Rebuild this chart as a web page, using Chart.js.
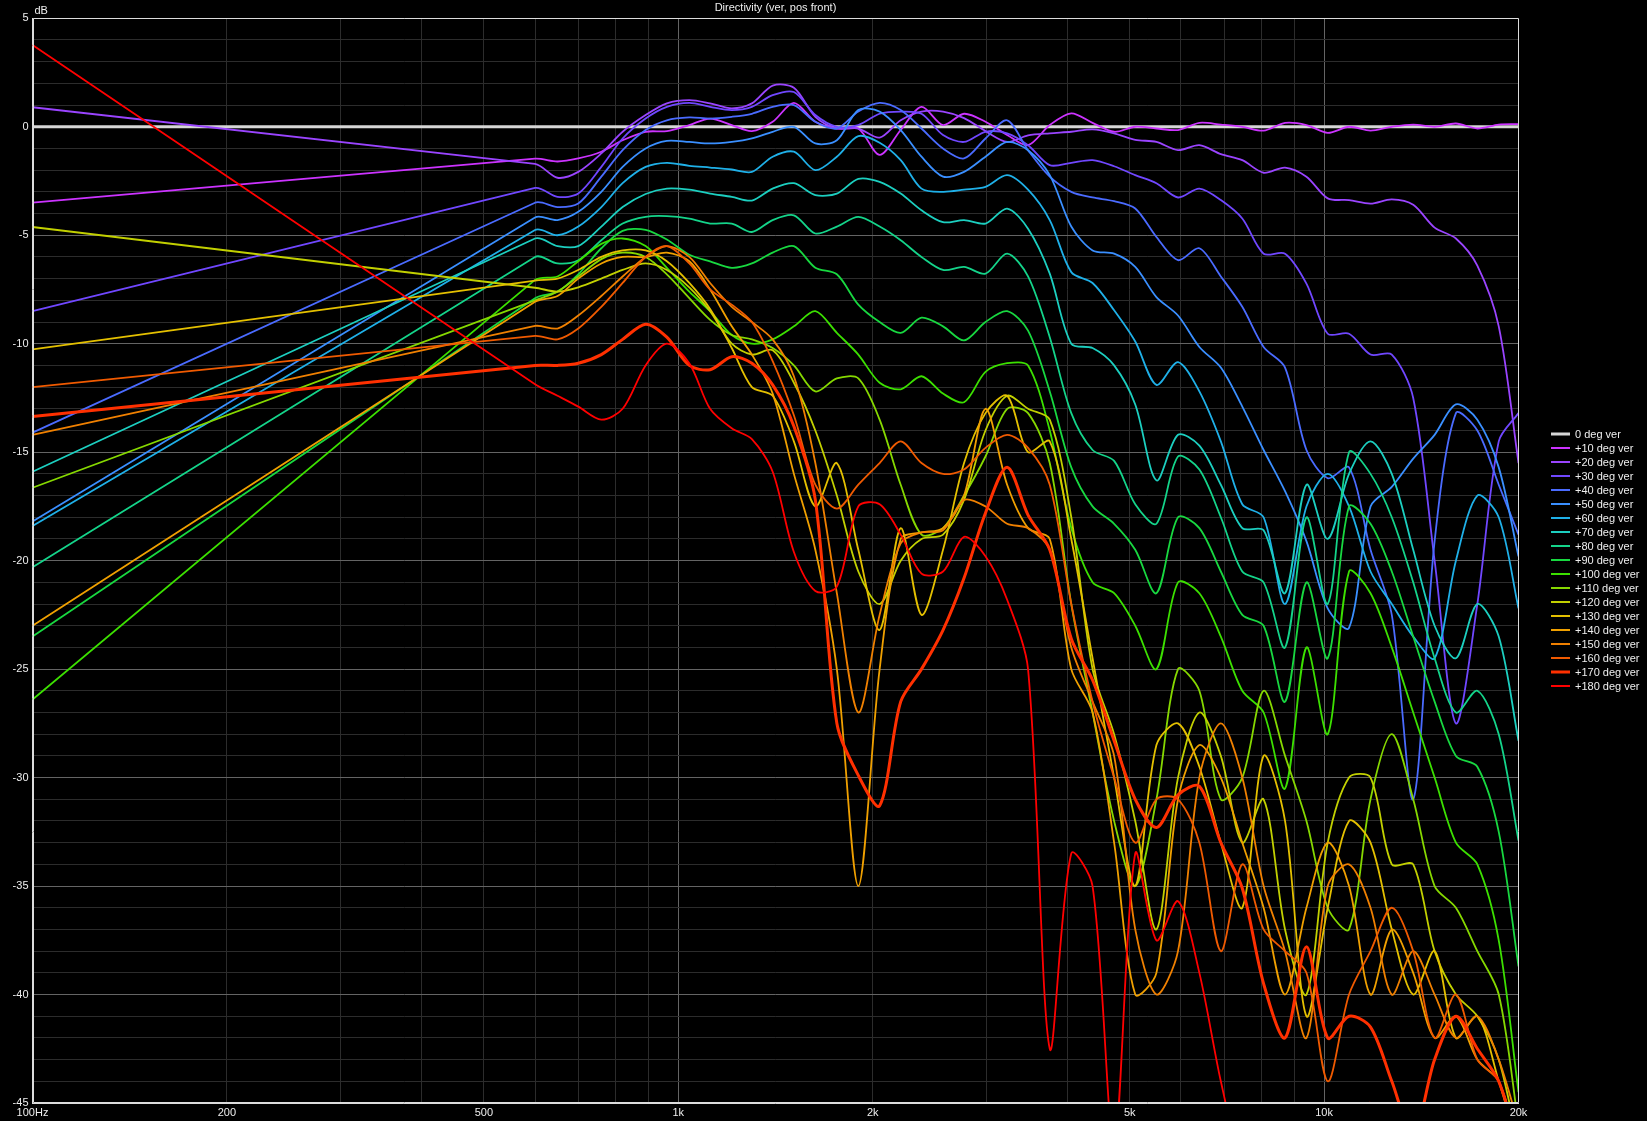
<!DOCTYPE html>
<html>
<head>
<meta charset="utf-8">
<style>
html,body{margin:0;padding:0;background:#000;overflow:hidden}
#c{display:block}
</style>
<script src="https://cdn.jsdelivr.net/npm/chart.js@4.4.1/dist/chart.umd.min.js"></script>
</head>
<body>
<canvas id="c" width="1647" height="1121"></canvas>
<script>
// ---------------- DATA ----------------
const chartTitle = 'Directivity (ver, pos front)';
const yUnit = 'dB';
const freqs = [100, 600, 650, 700, 760, 820, 890, 960, 1040, 1120, 1210, 1300, 1400, 1510, 1630, 1760, 1900, 2050, 2210, 2380, 2570, 2770, 2990, 3230, 3480, 3760, 4060, 4380, 4730, 5100, 5500, 5940, 6410, 6920, 7470, 8060, 8700, 9390, 10130, 10930, 11800, 12730, 13740, 14830, 16000, 17270, 18640, 20000];

const deg0   = [0, 0, 0, 0, 0, 0, 0, 0, 0, 0, 0, 0, 0, 0, 0, 0, 0, 0, 0, 0, 0, 0, 0, 0, 0, 0, 0, 0, 0, 0, 0, 0, 0, 0, 0, 0, 0, 0, 0, 0, 0, 0, 0, 0, 0, 0, 0, 0];
const deg10  = [-3.5, -1.47, -1.6, -1.46, -1.15, -0.62, -0.23, -0.2, 0.08, 0.38, 0.08, -0.2, 0.23, 1.1, 0.23, -0.08, -0.08, -1.3, -0.15, 0.92, 0.08, 0.6, 0.23, -0.38, -0.85, 0.08, 0.62, 0.18, -0.23, 0, -0.08, -0.15, 0.18, 0.1, 0, -0.18, 0.18, 0.08, -0.28, 0, -0.18, 0, 0.1, 0, 0.15, -0.08, 0.1, 0.12];
const deg20  = [0.9, -1.71, -2.35, -2.08, -1.23, -0.23, 0.54, 1.08, 1.23, 1.08, 0.85, 1.08, 1.9, 1.8, 0.46, -0.08, -0.08, -0.5, 0.3, 0.7, 0.7, 0.4, -0.2, -0.7, -0.4, -0.3, -0.23, -0.12, -0.3, -0.6, -0.7, -1.08, -0.85, -1.26, -1.54, -2.12, -1.88, -2.3, -3.3, -3.38, -3.54, -3.35, -3.6, -4.65, -5.15, -6.4, -9.2, -15.5];
const deg30  = [-8.5, -2.82, -3.23, -3.08, -1.85, -0.54, 0.38, 0.92, 1.1, 0.92, 0.77, 0.92, 1.46, 1.6, 0.54, 0, 0.08, 0.6, 0.7, 0.6, -0.38, -0.7, -0.23, -0.3, -0.85, -1.77, -1.66, -1.54, -1.82, -2.23, -2.6, -3.26, -2.85, -3.38, -4.23, -5.85, -5.85, -7.23, -9.54, -9.54, -10.5, -10.5, -12.5, -20, -27.5, -22, -14.5, -13.2];
const deg40  = [-14.1, -3.5, -3.7, -3.54, -2.3, -1.08, -0.15, 0.3, 0.43, 0.38, 0.46, 0.6, 0.92, 1.0, 0.23, -0.08, 0.7, 1.1, 0.77, -0.08, -1.0, -1.46, -0.54, 0.3, -1.08, -2.3, -3.0, -3.26, -3.43, -3.77, -5.08, -6.15, -5.6, -6.9, -8.3, -10.15, -11.1, -14.9, -16.2, -15.7, -19.5, -22.5, -31, -19.1, -13.2, -14, -16.5, -18.8];
const deg50  = [-18.2, -4.18, -4.3, -3.92, -3.0, -1.85, -1.0, -0.65, -0.7, -0.77, -0.7, -0.54, -0.23, 0, -0.77, -0.62, 0.77, 0.7, -0.15, -1.38, -2.3, -2.08, -1.38, -0.7, -1.08, -2.23, -4.6, -5.7, -5.85, -6.46, -7.85, -8.7, -10.15, -11.1, -12.9, -14.9, -16.8, -19.1, -22.2, -23.1, -17.5, -16.6, -15.3, -14.2, -12.8, -13.5, -15.7, -19.8];
const deg60  = [-18.4, -4.76, -5.0, -4.6, -3.7, -2.6, -1.85, -1.66, -1.8, -1.88, -1.97, -2.08, -1.38, -1.15, -2.0, -1.38, -0.43, -0.74, -1.54, -2.85, -3.0, -2.9, -2.77, -2.23, -2.9, -4.3, -6.7, -7.2, -8.46, -9.9, -11.9, -10.85, -12.2, -14.5, -17.4, -18, -22, -17.5, -16, -17.5, -20.5, -22, -23.5, -24.5, -20, -17, -18, -22.2];
const deg70  = [-15.9, -5.15, -5.5, -5.5, -4.6, -3.7, -3.1, -2.85, -2.9, -3.08, -3.23, -3.4, -2.85, -2.6, -3.15, -3.08, -2.4, -2.54, -3.08, -3.85, -4.4, -4.3, -4.46, -3.77, -4.7, -6.77, -10.0, -10.2, -11.0, -12.8, -16.3, -14.2, -14.7, -16.5, -18.5, -18.6, -21.5, -16.5, -19, -16, -14.5, -16, -19.5, -23, -24.5, -22, -23.5, -28.3];
const deg80  = [-20.3, -6.0, -6.3, -6.15, -5.23, -4.46, -4.15, -4.12, -4.23, -4.46, -4.46, -4.85, -4.3, -4.08, -4.92, -4.6, -4.15, -4.6, -5.23, -6.0, -6.6, -6.46, -6.77, -5.85, -6.9, -9.7, -13.2, -14.9, -15.4, -17.4, -18.3, -15.2, -15.8, -18, -20.5, -21, -24, -18, -22, -15, -16, -18, -21, -24.5, -27, -26, -28, -32.9];
const deg90  = [-23.5, -7.9, -7.6, -6.8, -5.6, -4.8, -4.75, -5.2, -5.9, -6.2, -6.5, -6.3, -5.8, -5.5, -6.5, -6.8, -8.2, -9.0, -9.5, -8.8, -9.2, -9.85, -9.0, -8.5, -9.4, -12.2, -15.7, -17.5, -18.3, -19.5, -21.5, -18.0, -18.5, -20.5, -22.5, -23, -26.5, -21, -24.5, -17.5, -18.3, -20.5, -23.5, -26.5, -29, -29.5, -32.5, -38.7];
const deg100 = [-26.4, -7.06, -6.9, -6.2, -5.4, -5.15, -5.5, -6.5, -7.6, -8.5, -9.6, -10.0, -9.8, -9.2, -8.5, -9.5, -10.5, -11.8, -12.1, -11.5, -12.3, -12.7, -11.3, -10.9, -11.0, -14.0, -18.5, -21, -21.5, -23, -25, -21, -21.5, -23.5, -26, -27, -30.5, -24, -28, -20.5, -21.5, -24, -27, -30, -33, -34, -37.5, -44.5];
const deg110 = [-16.64, -8.0, -7.6, -6.9, -6.1, -5.8, -6.0, -6.8, -7.9, -8.9, -9.6, -9.8, -10.2, -11.0, -12.2, -11.6, -11.6, -13.5, -16.5, -18.8, -18.5, -17.0, -15.2, -13.0, -13.2, -15.5, -22, -27, -32, -35, -31, -25, -26, -31, -30, -26, -29, -32, -36, -37, -31, -28, -31, -35, -36, -38, -40, -46];
const deg120 = [-4.62, -7.42, -7.6, -7.4, -7.0, -6.6, -6.3, -6.6, -7.4, -8.5, -10.0, -10.5, -10.3, -11.8, -14.0, -17.0, -20.5, -22.0, -20.0, -19.0, -18.8, -17.2, -14.0, -12.4, -13.0, -13.5, -18, -25, -28, -32, -37, -30, -27, -29, -33, -31, -37, -40, -33, -30, -30, -34, -34, -38, -40, -41, -43, -47];
const deg130 = [-10.26, -7.09, -7.0, -6.6, -6.0, -5.7, -5.7, -6.2, -7.2, -8.4, -10.2, -12.0, -12.4, -14.5, -17.5, -15.5, -19.5, -23.2, -18.5, -22.5, -19.5, -15.5, -13.2, -12.4, -15.0, -14.5, -19, -24.5, -30, -35, -28.5, -27.5, -29.5, -33, -36, -29, -32, -41, -36, -32, -33, -37, -40, -38, -42, -41, -44, -47];
const deg140 = [-23.0, -8.07, -7.8, -7.0, -6.3, -6.0, -6.0, -5.8, -6.2, -7.5, -9.2, -10.5, -12.3, -16.0, -19.5, -25, -35, -25, -19, -18.7, -18.5, -17, -13, -16.5, -18.5, -19, -25, -27, -33, -40, -39, -31, -28.5, -30, -33, -36, -40, -36, -33, -35, -40, -37, -39, -42, -41, -43, -44, -47];
const deg150 = [-14.2, -9.18, -9.3, -8.7, -7.8, -6.9, -6.0, -5.5, -6.0, -7.2, -8.3, -9.0, -9.8, -11.5, -15.5, -21.5, -27, -22.5, -19.2, -18.7, -18.6, -17.2, -17.5, -18.3, -18.5, -19.5, -24, -26.5, -29, -37, -40, -38, -30, -27.5, -30, -35, -38, -42, -35, -34, -36, -40, -38, -40, -42, -41, -43, -46];
const deg160 = [-12.0, -9.64, -9.8, -9.3, -8.3, -7.2, -6.0, -5.5, -6.3, -7.5, -8.2, -9.0, -10.8, -13.3, -16.5, -17.6, -16.5, -15.5, -14.5, -15.5, -16.0, -15.8, -14.8, -14.2, -14.8, -16.5, -22, -26.5, -30, -33, -31, -31, -33, -38, -34, -37, -38, -39, -44, -40, -38, -36, -38, -42, -40, -43, -44, -47];
const deg170 = [-13.35, -11.0, -11.0, -10.9, -10.5, -9.8, -9.1, -9.7, -11.0, -11.2, -10.6, -10.9, -11.9, -13.8, -17.2, -27.5, -29.9, -31.3, -26.5, -25.0, -23.2, -20.8, -17.8, -15.7, -17.9, -19.5, -23.6, -25.5, -28.3, -31.0, -32.3, -30.8, -30.4, -33.0, -35.1, -39.5, -42, -37.8, -42, -41, -41.5, -44, -46.5, -43, -41, -42.5, -44, -47];
const deg180 = [3.77, -11.87, -12.4, -12.9, -13.5, -13.0, -11.0, -10.0, -10.9, -13.0, -13.9, -14.4, -15.9, -19.6, -21.4, -21.2, -17.5, -17.4, -18.8, -20.6, -20.5, -18.9, -19.8, -21.8, -25.0, -42.5, -33.5, -35.0, -47, -33.5, -37.5, -35.7, -39, -44, -48, -50, -48, -45.5, -50, -48, -45, -50, -50, -50, -50, -50, -50, -50];

const seriesNames = ['0 deg ver', '+10 deg ver', '+20 deg ver', '+30 deg ver', '+40 deg ver', '+50 deg ver', '+60 deg ver', '+70 deg ver', '+80 deg ver', '+90 deg ver', '+100 deg ver', '+110 deg ver', '+120 deg ver', '+130 deg ver', '+140 deg ver', '+150 deg ver', '+160 deg ver', '+170 deg ver', '+180 deg ver'];
const seriesValues = [deg0, deg10, deg20, deg30, deg40, deg50, deg60, deg70, deg80, deg90, deg100, deg110, deg120, deg130, deg140, deg150, deg160, deg170, deg180];

const xGridValues = [100, 200, 300, 400, 500, 600, 700, 800, 900, 1000, 2000, 3000, 4000, 5000, 6000, 7000, 8000, 9000, 10000, 20000];
const xTickLabels = {100: '100Hz', 200: '200', 500: '500', 1000: '1k', 2000: '2k', 5000: '5k', 10000: '10k', 20000: '20k'};
const yMin = -45, yMax = 5;
const yLabelValues = [5, 0, -5, -10, -15, -20, -25, -30, -35, -40, -45];

// ---------------- STYLE ----------------
const seriesColors = ['#d6d6d6', '#cc33ff', '#9a44ff', '#7047ff', '#4a6bff', '#3a8fff', '#1fb0e8', '#1ccfc0', '#14d48a', '#18d840', '#3ce000', '#86d800', '#c2d000', '#e4c000', '#f0a000', '#f08000', '#f05a00', '#ff3000', '#ff0000'];
const thickSeries = [0, 17];
const MINOR = 'rgb(44,44,44)';
const MAJOR = 'rgb(100,100,100)';
const TEXT = '#eeeeee';
const FONT = '"Liberation Sans", Arial, sans-serif';

const datasets = seriesValues.map((vals, i) => ({
  label: seriesNames[i],
  data: freqs.map((f, j) => ({x: f, y: vals[j]})),
  borderColor: seriesColors[i],
  borderWidth: thickSeries.includes(i) ? 3 : 1.8,
  pointRadius: 0,
  pointHoverRadius: 0,
  tension: 0.3,
  fill: false,
  order: seriesValues.length - i
}));

const decor = {
  id: 'decor',
  beforeDraw(chart) {
    const {ctx, width, height} = chart;
    ctx.save();
    ctx.fillStyle = '#000';
    ctx.fillRect(0, 0, width, height);
    ctx.restore();
  },
  beforeDatasetDraw(chart, args) {
    // keep the straight extrapolated segment (first segment) straight
    const meta = args.meta;
    const line = meta.dataset;
    if (!line || !line.points || !line.updateControlPoints) return;
    line.updateControlPoints(chart.chartArea, meta.iScale.axis);
    const p = line.points;
    if (p.length > 1) {
      p[0].cp2x = p[0].x; p[0].cp2y = p[0].y;
      p[1].cp1x = p[1].x; p[1].cp1y = p[1].y;
    }
  },
  afterDraw(chart) {
    const {ctx, chartArea: a} = chart;
    ctx.save();
    ctx.strokeStyle = '#dcdcdc';
    ctx.lineWidth = 1;
    ctx.beginPath();
    const t = Math.round(a.top) + 0.5, r = Math.round(a.right) - 0.5;
    const l = Math.round(a.left) + 0.5, b = Math.round(a.bottom) - 0.5;
    ctx.moveTo(l, t); ctx.lineTo(r, t); ctx.lineTo(r, b);
    ctx.moveTo(l, t); ctx.lineTo(l, b); ctx.lineTo(r, b);
    ctx.stroke();

    ctx.fillStyle = TEXT;
    ctx.font = '11px ' + FONT;
    ctx.textBaseline = 'middle';
    ctx.textAlign = 'center';
    ctx.fillText(chartTitle, (a.left + a.right) / 2, 8);
    ctx.textAlign = 'left';
    ctx.fillText(yUnit, a.left + 2, 11);

    // legend
    const lx0 = 1551, lx1 = 1570, tx = 1575, ly0 = 434, step = 14;
    seriesNames.forEach((name, i) => {
      const y = ly0 + i * step;
      ctx.strokeStyle = seriesColors[i];
      ctx.lineWidth = thickSeries.includes(i) ? 3 : 2;
      ctx.beginPath();
      ctx.moveTo(lx0, y); ctx.lineTo(lx1, y);
      ctx.stroke();
      ctx.fillStyle = TEXT;
      ctx.fillText(name, tx, y + 0.5);
    });
    ctx.restore();
  }
};

new Chart(document.getElementById('c'), {
  type: 'line',
  data: {datasets},
  plugins: [decor],
  options: {
    responsive: false,
    animation: false,
    parsing: true,
    normalized: true,
    layout: {padding: {top: 18.3, right: 128.5, bottom: 0, left: 0}},
    plugins: {legend: {display: false}, title: {display: false}, tooltip: {enabled: false}},
    scales: {
      x: {
        type: 'logarithmic',
        min: 100, max: 20000,
        afterBuildTicks: s => { s.ticks = xGridValues.map(v => ({value: v})); },
        afterFit: s => { s.height = 18; },
        grid: {
          color: c => (c.tick && (c.tick.value === 1000 || c.tick.value === 10000)) ? MAJOR : MINOR,
          lineWidth: 1,
          drawTicks: false
        },
        border: {display: true, color: '#dcdcdc', width: 1},
        ticks: {
          autoSkip: false, maxRotation: 0, minRotation: 0, padding: 3,
          color: TEXT, font: {family: FONT, size: 11},
          callback: v => (xTickLabels[v] !== undefined ? xTickLabels[v] : '')
        }
      },
      y: {
        type: 'linear',
        min: yMin, max: yMax,
        afterBuildTicks: s => {
          const arr = [];
          for (let v = yMin; v <= yMax; v++) arr.push({value: v});
          s.ticks = arr;
        },
        afterFit: s => { s.width = 32.5; },
        grid: {
          color: c => (c.tick && yLabelValues.includes(c.tick.value)) ? MAJOR : MINOR,
          lineWidth: 1,
          drawTicks: false
        },
        border: {display: true, color: '#dcdcdc', width: 1},
        ticks: {
          autoSkip: false, padding: 4,
          color: TEXT, font: {family: FONT, size: 11},
          callback: v => (yLabelValues.includes(v) ? String(v) : '')
        }
      }
    }
  }
});
</script>
</body>
</html>
